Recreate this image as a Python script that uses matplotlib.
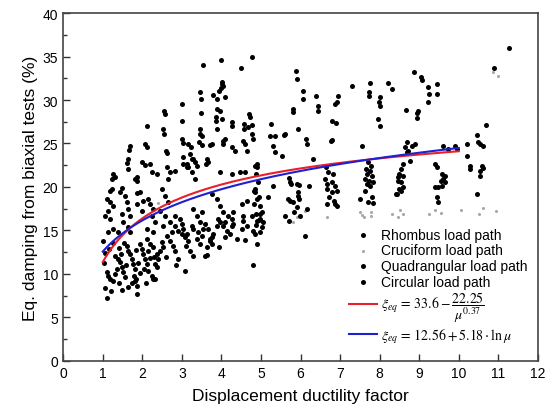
import matplotlib.pyplot as plt
import numpy as np

# Points (ductility factor, damping %)
rhombus = [
    (1.11, 10.2), (1.19, 9.4), (1.26, 9.2), (1.14, 9.8), (1.39, 11.7), (1.44, 11.4), (1.49, 10.8), (1.36, 10.6),
    (1.52, 10.2), (1.57, 9.7), (1.62, 13.2), (1.64, 12.6), (1.69, 12.3), (1.74, 11.7), (1.77, 11.1), (1.82, 10.6),
    (1.79, 9.8), (1.84, 9.4), (1.87, 8.6), (1.95, 13.4), (2.00, 12.9), (2.02, 12.3), (2.07, 11.7), (2.12, 11.1),
    (2.15, 10.3), (2.25, 9.8), (2.27, 9.4), (2.12, 14.0), (2.20, 13.4), (2.27, 13.1), (2.15, 12.6), (2.37, 12.3),
    (2.40, 11.7), (2.32, 11.1), (2.37, 10.8), (2.50, 13.7), (2.53, 13.1), (2.45, 12.6), (2.63, 14.4), (2.70, 13.8),
    (2.78, 13.2), (2.83, 12.6), (2.91, 14.9), (3.01, 14.6), (3.08, 14.3), (3.16, 13.8), (3.11, 13.2), (3.26, 15.5),
    (3.28, 15.2), (3.41, 14.8), (3.51, 14.4), (3.39, 14.0), (3.46, 13.4), (3.64, 13.1), (3.71, 13.8), (3.76, 13.4),
    (3.66, 15.2), (3.79, 14.6), (3.76, 14.3), (3.89, 15.5), (3.97, 16.0), (4.04, 15.5), (4.14, 14.9), (4.22, 14.6),
    (4.09, 14.3), (4.27, 16.3), (4.30, 15.7), (4.55, 16.1), (4.65, 15.5), (4.52, 15.2), (4.78, 16.7), (4.90, 16.1),
    (4.98, 16.9), (5.05, 16.0), (5.03, 15.4), (4.98, 14.8), (1.11, 7.2), (1.87, 7.7), (3.08, 10.3), (2.91, 11.7),
    (3.28, 12.1), (3.64, 12.2), (4.80, 11.0), (4.90, 13.4), (4.85, 14.6), (4.80, 14.9), (1.82, 9.2), (2.32, 9.4),
    (1.05, 8.4), (1.20, 8.0), (1.30, 10.0), (1.02, 11.2), (1.05, 12.4), (1.15, 12.9), (1.25, 13.5), (1.30, 12.1),
    (1.40, 13.0), (1.45, 12.3), (1.55, 13.6), (1.60, 11.0), (1.65, 8.5), (1.75, 9.0), (1.90, 11.2), (1.95, 10.1),
    (2.05, 10.6), (2.10, 9.0), (2.20, 11.8), (2.30, 12.0), (1.85, 12.8), (1.50, 8.2), (1.40, 9.0), (3.59, 12.1),
    (3.71, 14.0), (2.60, 11.9), (2.85, 11.0), (3.20, 12.6), (3.95, 13.1), (4.40, 14.0), (4.60, 13.9), (1.00, 13.8),
]

cruciform = [
    (5.90, 16.6), (6.10, 17.2), (6.67, 16.6), (7.50, 17.1), (7.55, 16.8), (7.77, 17.1), (7.78, 16.7), (8.30, 16.9),
    (8.50, 17.3), (8.58, 16.9), (9.25, 16.9), (9.40, 17.4), (9.55, 17.0), (10.05, 17.3), (10.50, 16.9), (10.60, 17.6),
    (10.95, 17.2), (10.85, 33.2), (11.00, 32.8), (2.40, 18.2), (3.60, 15.9), (5.80, 16.0), (7.60, 16.5), (8.45, 16.6),
]

quadrangular = [
    (1.24, 19.8), (1.44, 19.4), (1.19, 18.3), (1.26, 17.8), (1.06, 16.7), (1.19, 16.3), (1.26, 15.2), (1.39, 14.8),
    (1.57, 19.0), (1.62, 18.3), (1.64, 17.5), (1.69, 16.7), (1.49, 16.9), (1.52, 16.0), (1.64, 15.4), (1.69, 14.8),
    (1.95, 19.4), (1.87, 18.0), (2.00, 17.2), (2.02, 18.4), (2.15, 18.6), (2.20, 18.0), (2.27, 17.5), (2.25, 16.7),
    (2.32, 16.0), (2.12, 15.2), (2.27, 14.8), (2.50, 19.8), (2.58, 19.0), (2.65, 18.3), (2.45, 17.2), (2.58, 16.7),
    (2.70, 16.0), (2.53, 15.5), (2.75, 14.8), (2.83, 16.7), (2.96, 16.3), (3.01, 15.7), (2.83, 15.5), (3.03, 15.2),
    (3.13, 14.6), (3.28, 17.5), (3.39, 16.7), (3.51, 17.1), (3.46, 16.0), (3.59, 15.7), (3.54, 15.2), (3.76, 19.2),
    (3.89, 18.6), (3.97, 17.8), (4.04, 17.1), (3.92, 16.3), (4.09, 16.0), (4.17, 16.7), (4.30, 17.1), (4.27, 15.5),
    (4.52, 18.0), (4.55, 16.7), (4.65, 18.4), (4.85, 19.4), (4.90, 18.6), (4.98, 17.8), (5.03, 17.1), (4.98, 16.3),
    (5.31, 20.1), (5.18, 18.9), (5.74, 20.6), (5.91, 20.3), (5.68, 18.6), (5.81, 18.3), (5.94, 19.4), (5.91, 17.7),
    (6.16, 17.5), (5.99, 16.7), (6.11, 14.4),
    (5.71, 21.0), (5.76, 20.3), (5.96, 20.2), (5.74, 18.4), (5.94, 19.0), (5.96, 18.6), (5.61, 16.7), (5.71, 16.1),
    (5.84, 17.1), (6.21, 20.1), (4.85, 22.4), (4.88, 21.5), (4.92, 20.6), (4.85, 19.8), (4.82, 19.5), (4.95, 18.9),
    (4.82, 18.0), (4.88, 16.9), (4.95, 16.2), (4.88, 15.6),
    (6.65, 22.3), (6.69, 21.7), (6.82, 21.5), (6.62, 20.9), (6.67, 20.3), (6.79, 20.6), (6.87, 20.1), (6.67, 19.8),
    (6.79, 19.4), (6.92, 19.5), (6.72, 18.9), (6.84, 18.4), (6.67, 18.0), (6.87, 18.0), (6.92, 17.8),
    (7.70, 22.9), (7.78, 22.4), (7.65, 22.1), (7.76, 21.8), (7.68, 21.5), (7.80, 21.3), (7.63, 20.9), (7.73, 20.7),
    (7.83, 20.6), (7.68, 20.3), (7.76, 20.1), (7.63, 19.5), (7.80, 18.9), (7.50, 18.6), (7.70, 18.3), (7.83, 18.2),
    (8.46, 21.1), (8.43, 19.2),
    (8.69, 25.2), (8.64, 24.6), (8.82, 24.7), (8.72, 24.1), (8.77, 23.0), (8.59, 22.6), (8.54, 22.1), (8.49, 21.5),
    (8.59, 21.3), (8.46, 20.7), (8.54, 20.6), (8.59, 20.0), (8.49, 19.8), (8.41, 19.2), (8.54, 19.5), (8.89, 24.9),
    (8.69, 24.0),
    (9.60, 24.7), (9.73, 24.4), (9.90, 24.7), (9.95, 24.4), (9.40, 22.6), (9.45, 22.3), (9.58, 21.5), (9.65, 21.3),
    (9.60, 20.9), (9.55, 20.7), (9.65, 20.6), (9.58, 20.1), (9.40, 20.0), (9.48, 20.0), (9.45, 18.9), (9.48, 18.3),
    (10.20, 24.9), (10.20, 23.6), (10.28, 22.1),
    (10.46, 26.0), (10.49, 25.2), (10.54, 24.9), (10.61, 24.7), (10.28, 22.4), (10.59, 22.4), (10.61, 22.2),
    (10.54, 21.8), (10.54, 21.3), (10.46, 19.2),
]

circular = [
    (4.78, 34.9), (3.54, 34.0), (3.99, 34.6), (4.50, 33.7), (5.89, 33.3), (5.91, 32.4), (4.02, 31.8), (3.99, 31.4),
    (3.94, 31.0), (3.46, 30.9), (3.49, 30.1), (3.79, 30.6), (3.89, 30.1), (4.09, 30.3), (3.00, 29.5), (2.55, 28.7),
    (2.58, 28.4), (3.89, 29.0), (3.97, 28.7), (4.02, 27.8), (2.12, 27.0), (4.70, 28.4), (4.72, 28.0), (4.67, 26.9),
    (4.78, 27.1), (5.26, 27.2), (2.53, 26.7), (2.55, 26.1), (3.00, 27.6), (3.46, 26.7), (3.46, 26.1), (3.51, 25.9),
    (4.27, 27.5), (4.27, 27.0), (4.57, 27.2), (4.57, 26.7), (3.87, 28.0), (3.87, 27.6), (1.69, 24.7), (1.67, 24.2),
    (2.07, 24.9), (2.12, 24.6), (2.60, 24.1), (2.63, 23.9), (3.01, 25.5), (3.03, 25.1), (3.16, 24.9), (3.23, 24.6),
    (3.44, 25.2), (3.51, 24.8), (3.76, 24.9), (4.04, 25.3), (4.09, 25.5), (4.04, 24.9), (4.27, 24.6), (4.35, 24.1),
    (4.55, 25.3), (4.60, 24.9), (4.65, 24.1), (4.78, 26.1), (4.80, 25.5), (5.23, 25.9), (5.36, 25.9), (5.58, 26.0),
    (5.31, 24.7), (5.36, 24.0), (5.53, 23.6), (5.81, 29.0), (5.81, 28.6), (5.94, 26.7), (6.06, 31.0), (6.06, 30.1),
    (6.39, 30.5), (6.44, 29.3), (6.44, 28.7), (6.14, 25.5), (6.16, 24.9), (6.32, 23.2), (6.77, 25.3), (5.61, 26.1),
    (4.02, 32.1), (4.04, 31.6), (3.49, 28.5), (3.89, 26.7), (3.71, 24.8),
    (1.26, 21.5), (1.31, 21.1), (1.19, 19.5), (1.87, 21.1), (1.87, 20.7), (2.63, 22.3), (2.70, 21.7), (2.83, 21.8),
    (2.65, 20.9), (3.03, 23.4), (3.13, 22.6), (3.16, 22.3), (3.28, 23.2), (3.34, 22.9), (3.39, 22.4), (3.26, 21.7),
    (3.34, 20.9), (3.64, 23.2), (3.66, 22.9), (3.61, 22.6), (3.97, 21.7), (4.27, 21.5), (4.47, 21.7), (4.60, 21.7),
    (4.90, 22.6), (4.90, 22.3), (2.25, 21.7), (2.37, 21.5), (2.00, 22.9), (2.07, 22.5), (2.20, 22.6), (1.64, 23.2),
    (1.62, 22.8), (1.64, 22.1), (1.24, 20.9), (1.49, 19.9), (1.11, 18.6), (1.14, 17.2), (1.14, 14.8), (1.82, 20.9),
    (1.87, 19.3), (3.21, 23.8), (3.26, 23.2), (3.03, 22.6), (3.13, 22.3),
    (7.30, 31.6), (6.95, 30.5), (6.92, 29.8), (6.87, 29.5), (6.80, 27.6), (6.90, 27.4), (6.80, 25.4), (7.76, 32.0),
    (7.73, 30.9), (7.73, 30.5), (7.55, 24.7), (8.21, 32.0), (8.31, 31.3), (8.01, 30.3), (7.98, 29.8), (8.00, 29.3),
    (7.96, 27.8), (8.00, 27.0),
    (8.87, 33.2), (9.05, 32.6), (9.07, 32.3), (9.22, 31.5), (9.45, 31.8), (9.25, 30.7), (9.45, 30.7), (9.22, 29.8),
    (8.67, 28.9), (8.97, 28.7), (8.94, 28.5), (8.94, 27.9), (11.27, 36.0), (10.89, 33.7), (10.69, 27.1),
]

# fitted models shown in the legend
power_a, power_b, power_c = 33.6, 22.25, 0.37
log_a, log_b = 12.56, 5.18
mu_range = (1.0, 10.0)

plt.rcParams['font.family'] = ['Liberation Sans', 'DejaVu Sans']
plt.rcParams['mathtext.fontset'] = 'stix'

fig = plt.figure(figsize=(5.49, 4.14), dpi=100)
ax = fig.add_axes([0.115, 0.126, 0.865, 0.84])

def xy(pts):
    a = np.array(pts)
    return a[:, 0], a[:, 1]

x, y = xy(rhombus)
ax.scatter(x, y, s=13, c='black', linewidths=0, label='Rhombus load path', zorder=3)
x, y = xy(cruciform)
ax.scatter(x, y, s=5, c='#a8a8a8', linewidths=0, label='Cruciform load path', zorder=3)
x, y = xy(quadrangular)
ax.scatter(x, y, s=13, c='black', linewidths=0, label='Quadrangular load path', zorder=3)
x, y = xy(circular)
ax.scatter(x, y, s=13, c='black', linewidths=0, label='Circular load path', zorder=3)

mu = np.linspace(mu_range[0], mu_range[1], 200)
ax.plot(mu, power_a - power_b / mu ** power_c, color='#e8202a', lw=1.5, zorder=4,
        label=r'$\xi_{eq}\,=\,33.6-\dfrac{22.25}{\mu^{0.37}}$')
ax.plot(mu, log_a + log_b * np.log(mu), color='#2020d0', lw=1.5, zorder=4,
        label=r'$\xi_{eq}\,=\,12.56+5.18\cdot\ln\mu$')

ax.set_xlim(0, 12)
ax.set_ylim(0, 40)
ax.set_xticks(np.arange(0, 13, 1))
ax.set_yticks(np.arange(0, 41, 5))
ax.set_yticks(np.arange(2.5, 40, 5), minor=True)
ax.tick_params(direction='in', labelsize=10, length=5, width=1, colors='#333333', labelcolor='black')
ax.tick_params(which='minor', direction='in', length=3, width=1, colors='#333333')
for sp in ax.spines.values():
    sp.set_color('#444444')
    sp.set_linewidth(1.2)

ax.set_xlabel('Displacement ductility factor', fontsize=12.5, labelpad=6)
ax.set_ylabel('Eq. damping from biaxial tests (%)', fontsize=12.5, labelpad=3)

ax.legend(loc='lower right', bbox_to_anchor=(0.99, 0.03), frameon=False, fontsize=10,
          handlelength=2.0, handletextpad=0.3, labelspacing=0.12, borderaxespad=0,
          scatterpoints=1, markerscale=1.0)

plt.savefig('out.png', dpi=100)
plt.close()
